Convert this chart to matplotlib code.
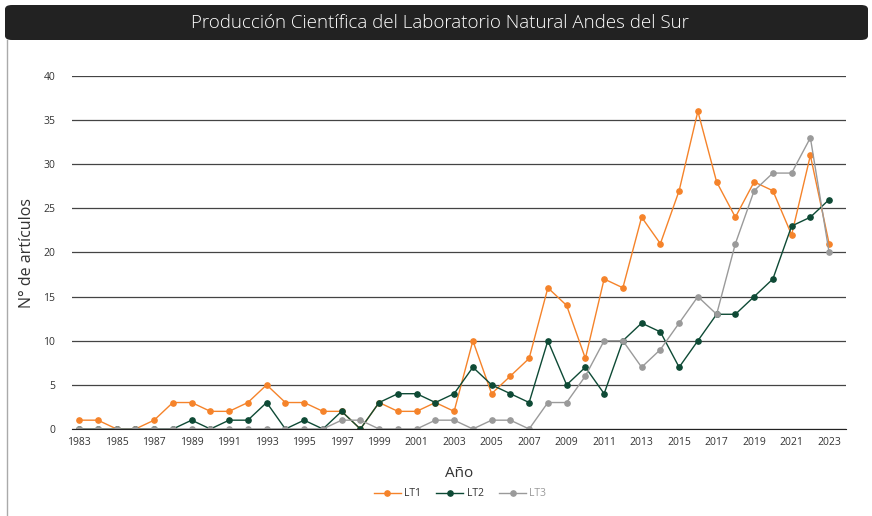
import numpy as np
import matplotlib
matplotlib.use("Agg")
import matplotlib.pyplot as plt
from matplotlib.patches import FancyBboxPatch
from matplotlib.lines import Line2D

plt.rcParams["font.family"] = ["Open Sans", "DejaVu Sans"]

years = list(range(1983, 2024))
lt1 = [1, 1, 0, 0, 1, 3, 3, 2, 2, 3, 5, 3, 3, 2, 2, 0, 3, 2, 2, 3, 2,
       10, 4, 6, 8, 16, 14, 8, 17, 16, 24, 21, 27, 36, 28, 24, 28, 27, 22, 31, 21]
lt2 = [0, 0, 0, 0, 0, 0, 1, 0, 1, 1, 3, 0, 1, 0, 2, 0, 3, 4, 4, 3, 4,
       7, 5, 4, 3, 10, 5, 7, 4, 10, 12, 11, 7, 10, 13, 13, 15, 17, 23, 24, 26]
lt3 = [0, 0, 0, 0, 0, 0, 0, 0, 0, 0, 0, 0, 0, 0, 1, 1, 0, 0, 0, 1, 1,
       0, 1, 1, 0, 3, 3, 6, 10, 10, 7, 9, 12, 15, 13, 21, 27, 29, 29, 33, 20]
series_names = ["LT1", "LT2", "LT3"]
colors = ["#F5832A", "#0E4A35", "#9A9A9A"]

fig = plt.figure(figsize=(8.72, 5.16), dpi=100)
W, H = 872, 516

# title bar
bar = FancyBboxPatch((5 / W, 1 - 40 / H), 863 / W, 35 / H,
                     boxstyle="round,pad=0,rounding_size=0.008",
                     transform=fig.transFigure, facecolor="#222222",
                     edgecolor="none")
fig.patches.append(bar)
fig.text(440 / W, 1 - 23 / H, "Producción Científica del Laboratorio Natural Andes del Sur",
         color="white", fontsize=13.5, fontweight="light", ha="center", va="center")
fig.add_artist(Line2D([7 / W, 7 / W], [0, 1 - 40 / H], transform=fig.transFigure,
                      color="#AAAAAA", lw=1))

ax = fig.add_axes([72 / W, 1 - 429 / H, (846 - 72) / W, (429 - 76) / H])
for vals, name, c in zip([lt1, lt2, lt3], series_names, colors):
    ax.plot(years, vals, color=c, lw=1.0, marker="o", markersize=3.8, label=name)

ax.set_xlim(1982.62, 2023.9)
ax.set_ylim(0, 40)
ax.set_yticks(range(0, 45, 5))
ax.set_xticks(range(1983, 2024, 2))
ax.tick_params(axis="both", length=0, labelsize=7.5, colors="#333333")
ax.tick_params(axis="y", pad=12)
ax.tick_params(axis="x", pad=6)
ax.grid(axis="y", color="#444444", lw=0.9)
ax.set_axisbelow(True)
for s in ["top", "right", "left"]:
    ax.spines[s].set_visible(False)
ax.spines["bottom"].set_color("#222222")

ax.set_xlabel("Año", fontsize=11, color="#333333", labelpad=13)
ax.set_ylabel("N° de artículos", fontsize=11.5, color="#333333", labelpad=6)

handles = [Line2D([], [], color=c, lw=1.0, marker="o", markersize=3.8) for c in colors]
leg = fig.legend(handles, series_names, loc="center", bbox_to_anchor=(460 / W, 1 - 494 / H),
                 ncol=3, frameon=False, fontsize=7.5, handlelength=2.6,
                 handletextpad=0.3, columnspacing=1.5)
for t, c in zip(leg.get_texts(), ["#333333", "#333333", "#9A9A9A"]):
    t.set_color(c)

fig.savefig("out.png", dpi=100)
